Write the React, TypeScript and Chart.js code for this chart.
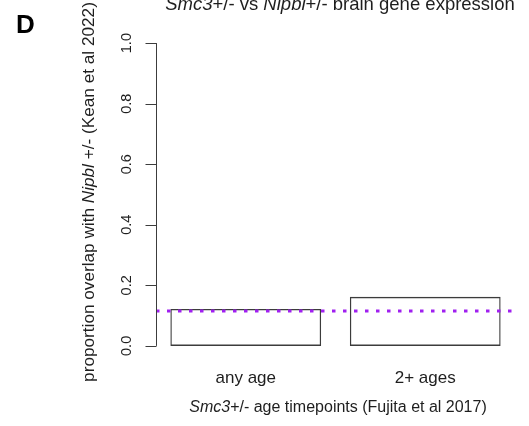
import React, { useEffect, useRef } from "react";
import { Chart, registerables } from "chart.js";

Chart.register(...registerables);

const categories = ["any age", "2+ ages"];
const overlapValues = [0.122, 0.162];
const backgroundRate = 0.115;
const yTickValues = [0, 0.2, 0.4, 0.6, 0.8, 1.0];
const yTickLabels = ["0.0", "0.2", "0.4", "0.6", "0.8", "1.0"];

const FONT = "'Liberation Sans', Arial, Helvetica, sans-serif";
const TEXT = "#1e1e1e";
const AXIS = "#3c3c3c";

type Seg = { t: string; italic?: boolean };

function drawRich(ctx: CanvasRenderingContext2D, segs: Seg[], size: number, x: number, y: number, rotate = 0) {
  ctx.save();
  ctx.translate(x, y);
  if (rotate) ctx.rotate(rotate);
  const fonts = segs.map((s) => `${s.italic ? "italic " : ""}${size}px ${FONT}`);
  let total = 0;
  const widths = segs.map((s, i) => {
    ctx.font = fonts[i];
    const w = ctx.measureText(s.t).width;
    total += w;
    return w;
  });
  let cx = -total / 2;
  ctx.textAlign = "left";
  ctx.textBaseline = "alphabetic";
  ctx.fillStyle = TEXT;
  segs.forEach((s, i) => {
    ctx.font = fonts[i];
    ctx.fillText(s.t, cx, 0);
    cx += widths[i];
  });
  ctx.restore();
}

const decorPlugin = {
  id: "rDecor",
  afterDatasetsDraw(chart: any) {
    const { ctx, chartArea, scales } = chart;
    const y = scales.y;
    ctx.save();
    // reference dotted line
    const yl = y.getPixelForValue(backgroundRate);
    ctx.strokeStyle = "#a020f0";
    ctx.lineWidth = 3;
    ctx.setLineDash([3.5, 7.5]);
    ctx.beginPath();
    ctx.moveTo(chartArea.left, yl);
    ctx.lineTo(chartArea.right, yl);
    ctx.stroke();
    ctx.setLineDash([]);

    // y axis (R style)
    const ax = chartArea.left + 0.5;
    const y0 = y.getPixelForValue(yTickValues[0]);
    const y1 = y.getPixelForValue(yTickValues[yTickValues.length - 1]);
    ctx.strokeStyle = AXIS;
    ctx.lineWidth = 1;
    ctx.beginPath();
    ctx.moveTo(ax, y0);
    ctx.lineTo(ax, y1);
    yTickValues.forEach((v) => {
      const py = Math.round(y.getPixelForValue(v)) + 0.5;
      ctx.moveTo(ax, py);
      ctx.lineTo(ax - 11, py);
    });
    ctx.stroke();

    ctx.fillStyle = TEXT;
    ctx.font = `14.5px ${FONT}`;
    ctx.textAlign = "center";
    ctx.textBaseline = "middle";
    yTickValues.forEach((v, i) => {
      const py = y.getPixelForValue(v);
      ctx.save();
      ctx.translate(chartArea.left - 29, py);
      ctx.rotate(-Math.PI / 2);
      ctx.fillText(yTickLabels[i], 0, 0);
      ctx.restore();
    });

    // titles
    drawRich(ctx, [
      { t: "Smc3", italic: true },
      { t: "+/- vs " },
      { t: "Nipbl", italic: true },
      { t: "+/- brain gene expression" },
    ], 18.5, 340, 10);

    drawRich(ctx, [
      { t: "Smc3", italic: true },
      { t: "+/- age timepoints (Fujita et al 2017)" },
    ], 16, 338, 412);

    drawRich(ctx, [
      { t: "proportion overlap with " },
      { t: "Nipbl", italic: true },
      { t: " +/- (Kean et al 2022)" },
    ], 17.2, 94, 192, -Math.PI / 2);

    ctx.font = `bold 26px ${FONT}`;
    ctx.fillStyle = "#000";
    ctx.textAlign = "left";
    ctx.textBaseline = "alphabetic";
    ctx.fillText("D", 16, 33);
    ctx.restore();
  },
};

export default function App() {
  const ref = useRef<HTMLCanvasElement>(null);
  useEffect(() => {
    document.body.style.margin = "0";
    const chart = new Chart(ref.current as HTMLCanvasElement, {
      type: "bar",
      data: {
        labels: categories,
        datasets: [
          {
            data: overlapValues,
            backgroundColor: "rgba(255,255,255,0)",
            borderColor: AXIS,
            borderWidth: 1.3,
            borderSkipped: false,
            categoryPercentage: 1,
            barPercentage: 0.84,
          },
        ],
      },
      options: {
        animation: false,
        responsive: true,
        maintainAspectRatio: false,
        layout: { padding: { top: 31, right: 14, left: 0, bottom: 0 } },
        plugins: { legend: { display: false }, tooltip: { enabled: false }, title: { display: false } },
        scales: {
          x: {
            grid: { display: false, drawTicks: false },
            border: { display: false },
            ticks: { color: TEXT, font: { family: FONT, size: 17 }, padding: 10 },
            afterFit: (s: any) => { s.height = 68; },
          },
          y: {
            min: -0.04,
            max: 1.04,
            grid: { display: false },
            border: { display: false },
            ticks: { display: false },
            afterFit: (s: any) => { s.width = 156; },
          },
        },
      },
      plugins: [decorPlugin],
    });
    return () => chart.destroy();
  }, []);
  return (
    <div style={{ width: 529, height: 426, position: "relative", background: "#fff" }}>
      <canvas ref={ref} />
    </div>
  );
}
